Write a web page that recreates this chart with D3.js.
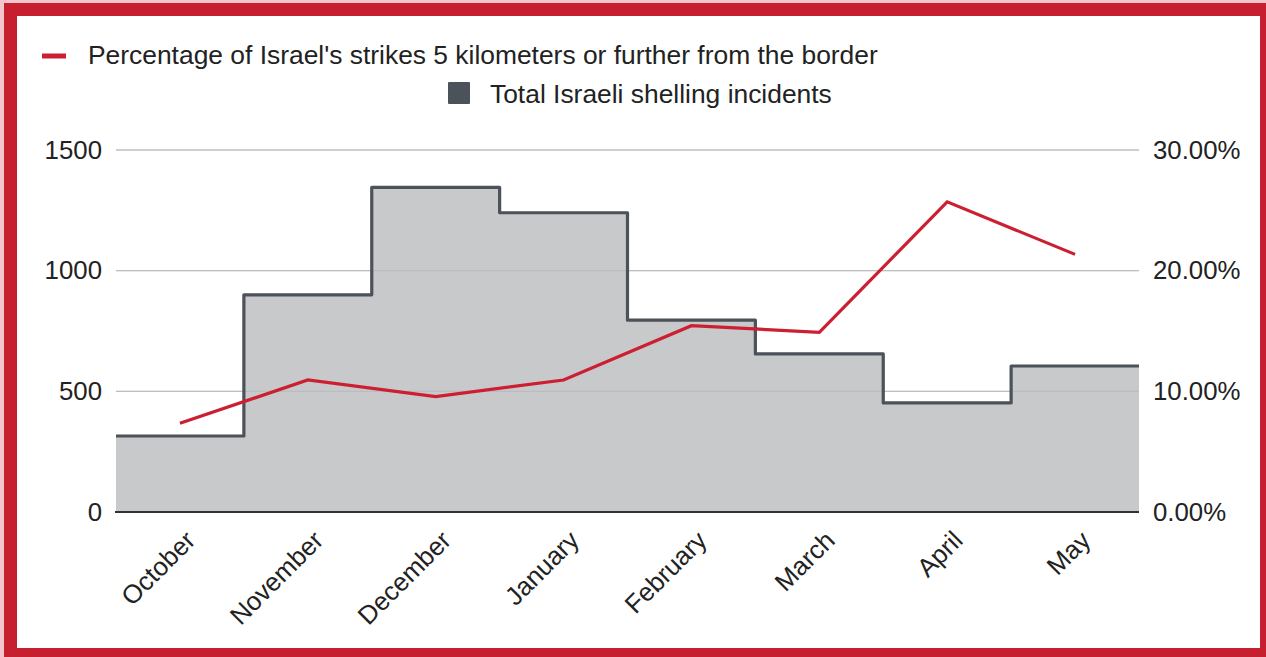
<!DOCTYPE html>
<html><head><meta charset="utf-8">
<script src="https://cdn.jsdelivr.net/npm/d3@7"></script>
<style>body{margin:0;background:#fff}svg{display:block}text{font-family:"Liberation Sans",Arial,sans-serif;fill:#222}</style>
</head><body><svg id="c" width="1266" height="657"></svg>
<script>
const months = ["October","November","December","January","February","March","April","May"];
const shelling = [315, 900, 1345, 1240, 795, 655, 452, 605];
const pctFar = [7.35, 10.94, 9.56, 10.94, 15.44, 14.89, 25.7, 21.35];
const leftTicks = [0, 500, 1000, 1500];
const rightTicks = [0, 10, 20, 30];
const legendLabels = ["Percentage of Israel's strikes 5 kilometers or further from the border", "Total Israeli shelling incidents"];

const svg = d3.select("#c");
const W = 1266, H = 657, FS = "25.8px", LFS = "26.4px";
svg.append("rect").attr("x",0).attr("y",0).attr("width",W).attr("height",H).attr("fill","#f2c6ca");
svg.append("rect").attr("x",4).attr("y",3).attr("width",W).attr("height",H).attr("fill","#c62030");
svg.append("rect").attr("x",17).attr("y",16).attr("width",1243).attr("height",632).attr("fill","#fff");

const L = 116, R = 1139, T = 150, B = 512;
const x = d3.scaleBand().domain(months).range([L, R]).padding(0);
const yL = d3.scaleLinear().domain([0,1500]).range([B, T]);
const yR = d3.scaleLinear().domain([0,30]).range([B, T]);

// grid
svg.append("g").selectAll("line").data(leftTicks.filter(d=>d>0)).join("line")
  .attr("x1",L).attr("x2",R).attr("y1",d=>yL(d)).attr("y2",d=>yL(d))
  .attr("stroke","#cfcfcf").attr("stroke-width",1.3);

// step area
const stepData = shelling.map((v,i)=>({x:x(months[i]), v}));
stepData.push({x:R, v:shelling[shelling.length-1]});
const area = d3.area().curve(d3.curveStepAfter).x(d=>d.x).y0(B).y1(d=>yL(d.v));
svg.append("path").datum(stepData).attr("d",area).attr("fill","#c8c9cb");
svg.append("g").selectAll("line").data(leftTicks.filter(d=>d>0)).join("line")
  .attr("x1",L).attr("x2",R).attr("y1",d=>yL(d)).attr("y2",d=>yL(d))
  .attr("stroke","#b4b5b7").attr("stroke-width",1.2).attr("opacity",0.6);
const line = d3.line().curve(d3.curveStepAfter).x(d=>d.x).y(d=>yL(d.v));
svg.append("path").datum(stepData).attr("d",line).attr("fill","none")
  .attr("stroke","#4b5259").attr("stroke-width",3.2).attr("stroke-linejoin","round");

// baseline
svg.append("line").attr("x1",L-1).attr("x2",R).attr("y1",B).attr("y2",B).attr("stroke","#333").attr("stroke-width",2);

// red line
const rl = d3.line().x((d,i)=>x(months[i])+x.bandwidth()/2).y(d=>yR(d));
svg.append("path").datum(pctFar).attr("d",rl).attr("fill","none")
  .attr("stroke","#cc1f32").attr("stroke-width",3.2).attr("stroke-linejoin","miter");

const FF = '"Liberation Sans",Arial,sans-serif';
// left axis
const axL = d3.axisLeft(yL).tickValues(leftTicks).tickSize(0).tickPadding(14).tickFormat(d3.format("d"));
const gL = svg.append("g").attr("transform",`translate(${L},0)`).call(axL);
gL.select(".domain").remove();
gL.selectAll("text").style("font-size",FS).style("font-family",FF).attr("fill","#222");

const axR = d3.axisRight(yR).tickValues(rightTicks).tickSize(0).tickPadding(14).tickFormat(d=>d3.format(".2f")(d)+"%");
const gR = svg.append("g").attr("transform",`translate(${R},0)`).call(axR);
gR.select(".domain").remove();
gR.selectAll("text").style("font-size",FS).style("font-family",FF).attr("fill","#222");

// x axis
const axB = d3.axisBottom(x).tickSize(0).tickPadding(0);
const gB = svg.append("g").attr("transform",`translate(0,${B})`).call(axB);
gB.select(".domain").remove();
gB.selectAll("text").style("font-size",FS).style("font-family",FF).attr("text-anchor","end")
  .attr("dy",0).attr("y",0).attr("fill","#222")
  .attr("transform","translate(17,30) rotate(-45)");

// legend
const lg = svg.append("g");
lg.append("line").attr("x1",42).attr("x2",66).attr("y1",56).attr("y2",56).attr("stroke","#cc1f32").attr("stroke-width",5);
lg.append("text").attr("x",88).attr("y",64).text(legendLabels[0]).style("font-size",LFS);
lg.append("rect").attr("x",448).attr("y",82).attr("width",22).attr("height",22).attr("rx",1).attr("fill","#4b5259");
lg.append("text").attr("x",490).attr("y",103).text(legendLabels[1]).style("font-size",LFS);
</script></body></html>
